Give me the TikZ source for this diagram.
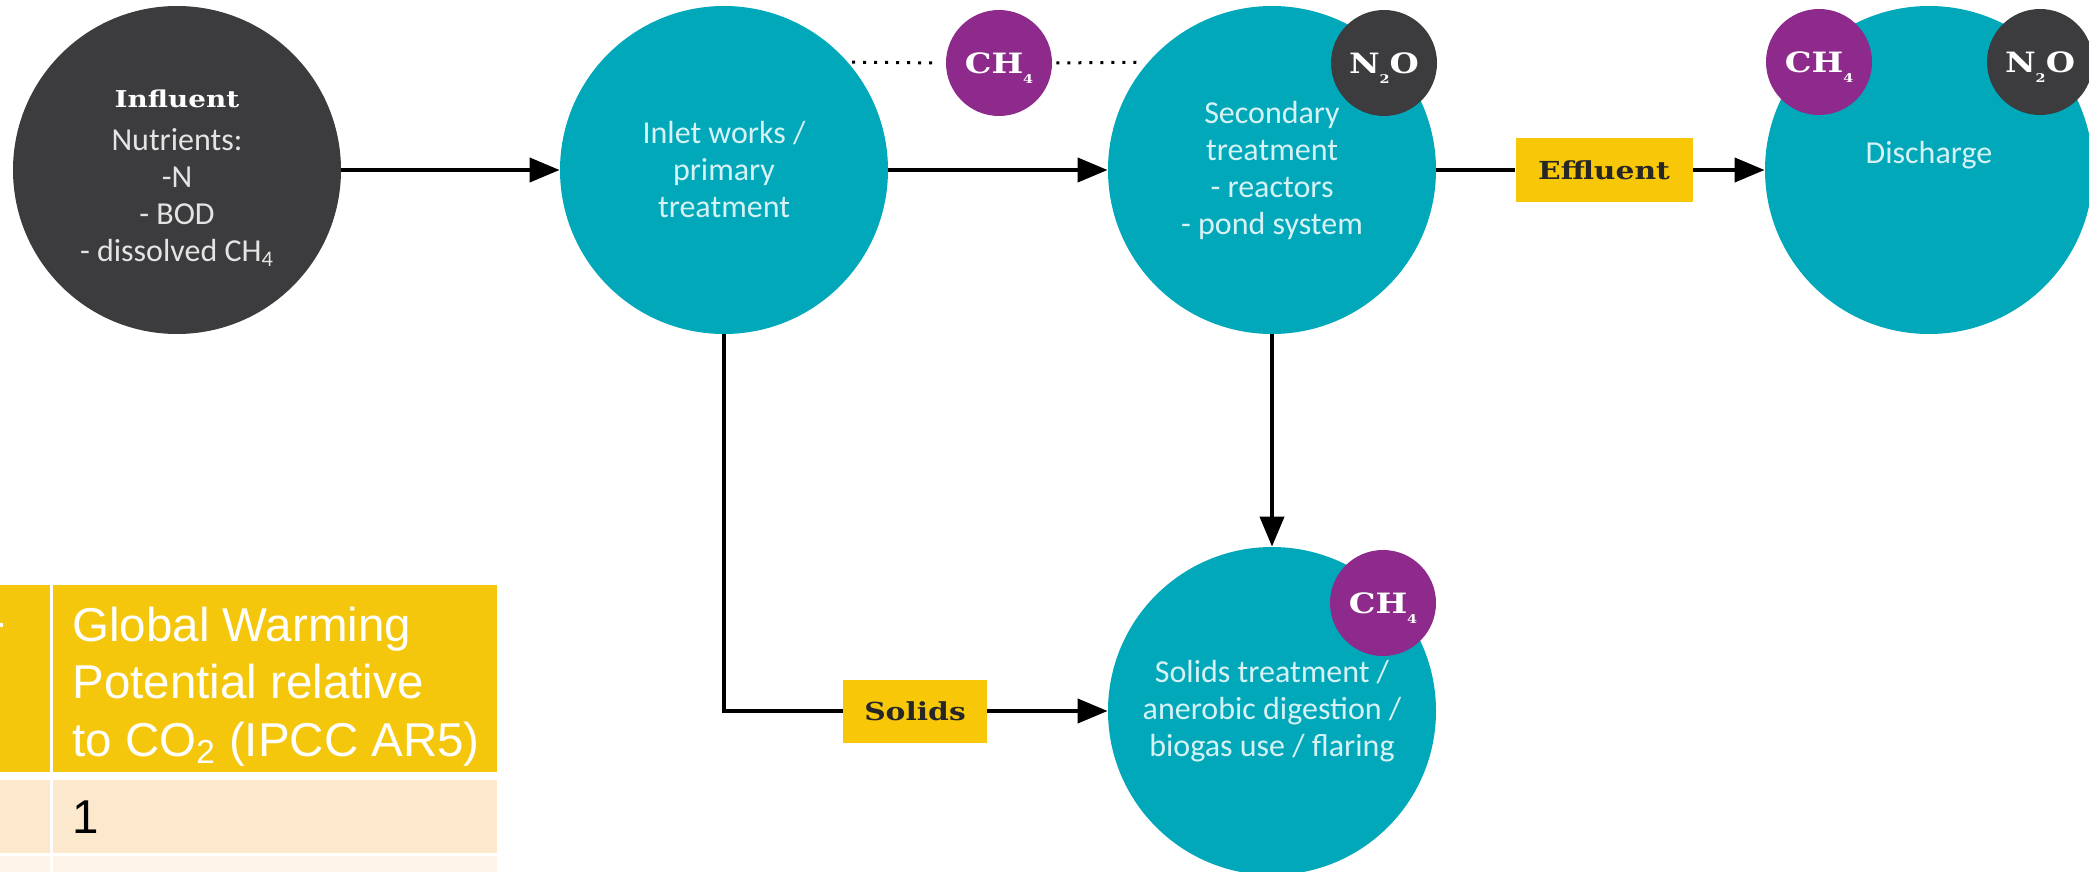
\documentclass[tikz,border=0pt]{standalone}
\usepackage{fontspec}
\setmainfont{Carlito}
\newfontfamily\slab[FakeStretch=1.2]{DejaVu Serif}
\newfontfamily\arial{Liberation Sans}
\usetikzlibrary{arrows.meta}
\definecolor{teal2}{HTML}{01A8BA}
\definecolor{darkc}{HTML}{3C3C3E}
\definecolor{purp}{HTML}{8E2A8C}
\definecolor{yel}{HTML}{F7C708}
\definecolor{hdr}{HTML}{F5C70C}
\definecolor{rowa}{HTML}{FBE8CD}
\definecolor{rowb}{HTML}{FDF3E6}
\definecolor{ctext}{HTML}{D6F2F5}
\definecolor{itext}{HTML}{E4E4E4}
\newcommand\lsub[1]{\raisebox{-5pt}[0pt][0pt]{\fontsize{6}{6}\selectfont #1}}
\begin{document}
\begin{tikzpicture}[x=0.5pt,y=-0.5pt,
  bigc/.style={circle, minimum size=164pt, inner sep=0pt, align=center,
    font=\fontsize{16}{18.5}\selectfont, text=ctext, fill=teal2},
  ctxt/.style={align=center, inner sep=0pt, font=\fontsize{16}{18.5}\selectfont},
  gas/.style={circle, minimum size=53pt, inner sep=0pt, text=white,
    font=\slab\bfseries\fontsize{14}{14}\selectfont},
  tag/.style={fill=yel, inner sep=0pt, text=black!85,
    font=\slab\bfseries\fontsize{12.4}{12.4}\selectfont},
  ln/.style={line width=2pt},
  arr/.style={line width=2pt, -{Triangle[length=15pt,width=12pt]}},
  dots/.style={line width=1.5pt, dash pattern=on 1.5pt off 4pt, shorten <=2pt, shorten >=3pt},
  th/.style={anchor=base west, inner sep=0pt, text=white,
    font=\arial\fontsize{23.75}{28.5}\selectfont}
]
\useasboundingbox (0,0) rectangle (2089,872);

% table
\fill[hdr] (0,585) rectangle (50,772);
\fill[hdr] (53,585) rectangle (497,772);
\fill[rowa] (0,780) rectangle (50,853);
\fill[rowa] (53,780) rectangle (497,853);
\fill[rowb] (0,856) rectangle (50,872);
\fill[rowb] (53,856) rectangle (497,872);
\fill[white] (0,623) rectangle (3,627);
\node[th] (h1) at (72,641) {Global Warming};
\node[th] (h2) at (72,698) {Potential relative};
\node[th] (h3) at (72,756) {to CO\textsubscript{2} (IPCC AR5)};
\node[th, text=black] (v1) at (72,833) {1};

% big circles
\node[bigc, fill=darkc] (infl) at (177,170) {};
\node[ctxt, text=itext] (infltext) at (177,178)
  {{\slab\bfseries\fontsize{11.6}{11.6}\selectfont\color{white} Influent}\\[3pt]
   Nutrients:\\-N\\- BOD\\- dissolved CH\textsubscript{4}};
\node[bigc] (inlet) at (724,170) {Inlet works /\\primary\\treatment};
\node[bigc] (sec) at (1272,170) {Secondary\\treatment\\- reactors\\- pond system};
\node[bigc] (dis) at (1929,170) {};
\node[ctxt, text=ctext] (distext) at (1929,155) {Discharge};
\node[bigc] (sol) at (1272,711) {Solids treatment /\\anerobic digestion /\\biogas use / flaring};

% gas circles
\node[gas, fill=purp] (m1) at (999,63) {CH\lsub{4}};
\node[gas, fill=darkc] (n1) at (1384,63) {N\lsub{2}O};
\node[gas, fill=purp] (m2) at (1819,62) {CH\lsub{4}};
\node[gas, fill=darkc] (n2) at (2040,62) {N\lsub{2}O};
\node[gas, fill=purp] (m3) at (1383,603) {CH\lsub{4}};

% tags
\node[tag, minimum width=88.5pt, minimum height=32pt] (eff) at (1604,170) {Effluent};
\node[tag, minimum width=72pt, minimum height=31.5pt] (solbox) at (915,711) {Solids};

% connectors
\draw[arr] (infl) -- (inlet);
\draw[arr] (inlet) -- (sec);
\draw[ln] (sec) -- (eff);
\draw[arr] (eff) -- (dis);
\draw[arr] (sec) -- (sol);
\draw[ln] (inlet.south) |- (solbox.west);
\draw[arr] (solbox) -- (sol);
\draw[dots] (inlet.41) -- (m1.west);
\draw[dots] (m1.east) -- (sec.139);
\end{tikzpicture}
\end{document}
